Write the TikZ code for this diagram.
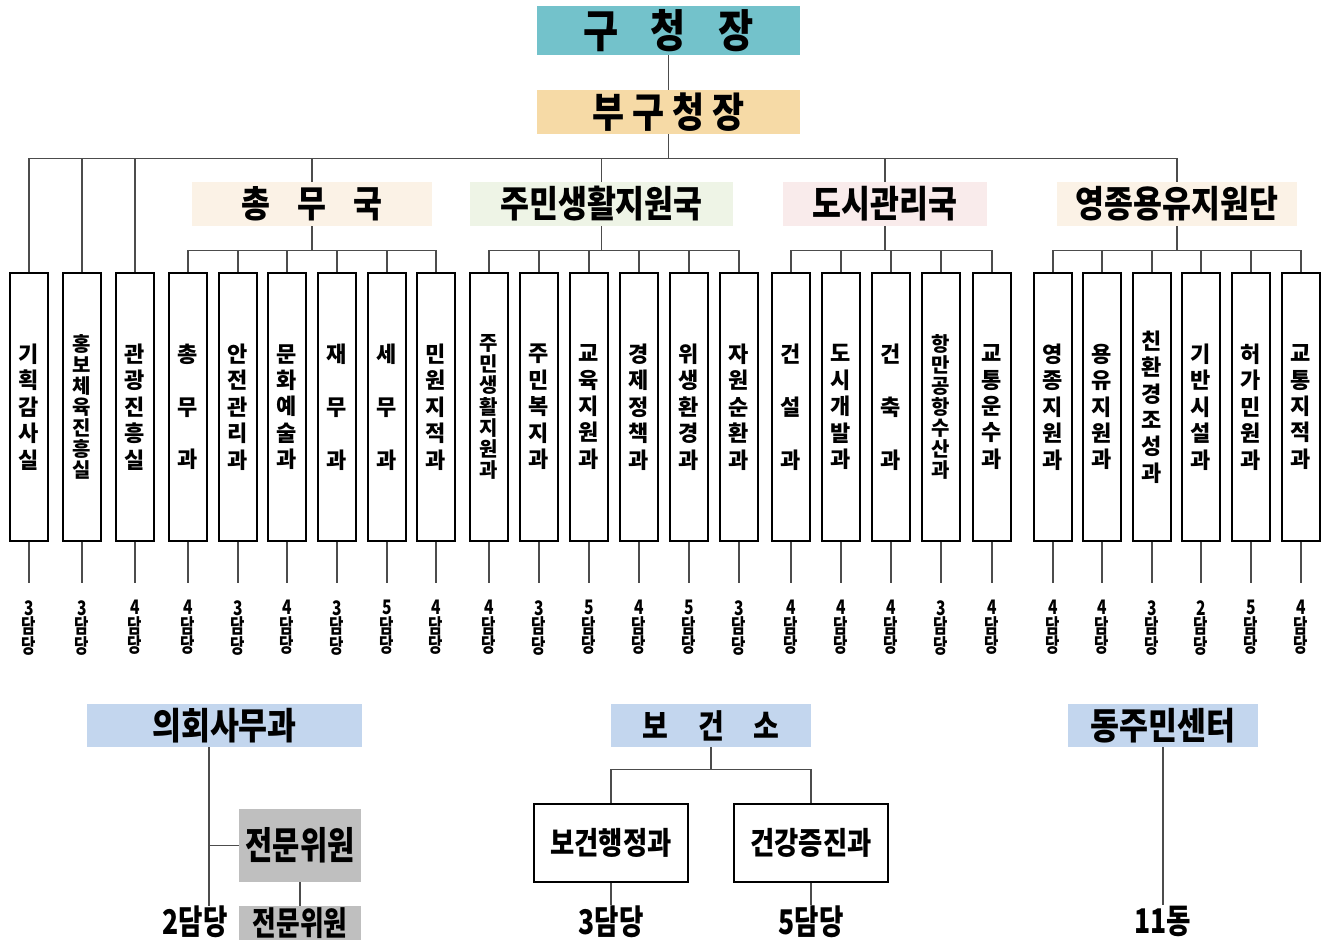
\documentclass[tikz,border=0pt]{standalone}
\usepackage{fontspec}
\setmainfont{Noto Sans CJK KR Black}
\newfontfamily\narrowfont{Noto Sans CJK KR Black}[FakeStretch=0.85]
\newfontfamily\slimfont{Noto Sans CJK KR Black}[FakeStretch=0.78]
\usetikzlibrary{positioning}
\definecolor{gcteal}{HTML}{73C2CB}
\definecolor{bgsand}{HTML}{F6DAA6}
\definecolor{bkcream}{HTML}{FBF2E6}
\definecolor{bkgreen}{HTML}{EEF4E6}
\definecolor{bkpink}{HTML}{F9EBEB}
\definecolor{bkblue}{HTML}{C3D6EE}
\definecolor{bkgray}{HTML}{BFBFBF}
\tikzset{
	HD/.style={fill=#1, inner sep=0pt, minimum height=44pt, font=\fontsize{37}{37}\narrowfont}
}
\tikzset{
	DB/.style={draw, line width=1.1pt, minimum width=38pt, minimum height=268pt, inner sep=0pt, align=center},
	DF/.style={font=\fontsize{22}{26.4}\selectfont},
	DS/.style={font=\fontsize{20}{21.1}\selectfont},
	CT/.style={font=\fontsize{20}{18.5}\slimfont, align=center, inner sep=0pt, anchor=north},
	BL/.style={font=\fontsize{34}{34}\slimfont, inner sep=1pt, anchor=north},
	CN/.style={draw=black!70, line width=1.1pt}
}

\begin{document}
\begin{tikzpicture}[x=1pt,y=-1pt]
	\useasboundingbox (0,0) rectangle (1324,940);
	% top
	\node[HD=gcteal, minimum width=263pt, minimum height=49pt, font=\fontsize{45}{45}\narrowfont] (gcj) at (668.5,30.5) {구\hspace{32pt}청\hspace{32pt}장};
	\node[HD=bgsand, minimum width=263pt, font=\fontsize{41}{41}\narrowfont] (bgc) at (668.5,112) {부\hspace{8pt}구\hspace{8pt}청\hspace{8pt}장};
	\draw[CN] (gcj.south) -- (bgc.north);
	\draw[CN] (bgc.south) -- ++(0,24) coordinate (bus);
	% bureaus
	\node[HD=bkcream, minimum width=240pt] (cm) at (312,204) {총\hspace{27pt}무\hspace{27pt}국};
	\node[HD=bkgreen, minimum width=263pt] (jm) at (601.5,204) {주민생활지원국};
	\node[HD=bkpink, minimum width=204pt] (ds) at (885,204) {도시관리국};
	\node[HD=bkcream, minimum width=240pt] (yj) at (1177,204) {영종용유지원단};
	% staff rooms
	\foreach \n/\x/\txt/\st/\cnt in {
		1/29/{기\\획\\감\\사\\실}/DF/3,
		2/82/{홍\\보\\체\\육\\진\\흥\\실}/DS/3,
		3/135/{관\\광\\진\\흥\\실}/DF/4}{
		\node[DB,\st] (st-\n) at (\x,407) {\txt};
		\node[CT] (st-\n-l) at (\x,600) {\cnt\\담\\당};
		\draw[CN] (st-\n.south) -- ++(0,41);
	}
	\draw[CN] (st-1.north) |- (bus) -| (yj.north);
	\foreach \k in {st-2,st-3,cm,jm,ds}
		\draw[CN] (\k.north) -- (\k.north |- bus);
	% 총무국
	\foreach \n/\x/\txt/\st/\cnt in {
		1/188/{총\\[26.4pt]무\\[26.4pt]과}/DF/4,
		2/238/{안\\전\\관\\리\\과}/DF/3,
		3/287/{문\\화\\예\\술\\과}/DF/4,
		4/337/{재\\[26.4pt]무\\[26.4pt]과}/DF/3,
		5/387/{세\\[26.4pt]무\\[26.4pt]과}/DF/5,
		6/436/{민\\원\\지\\적\\과}/DF/4}{
		\node[DB,\st] (cm-\n) at (\x,407) {\txt};
		\node[CT] (cm-\n-l) at (\x,600) {\cnt\\담\\당};
		\draw[CN] (cm.south) -- ++(0,24) -| (cm-\n.north);
		\draw[CN] (cm-\n.south) -- ++(0,41);
	}
	% 주민생활지원국
	\foreach \n/\x/\txt/\st/\cnt in {
		1/489/{주\\민\\생\\활\\지\\원\\과}/DS/4,
		2/539/{주\\민\\복\\지\\과}/DF/3,
		3/589/{교\\육\\지\\원\\과}/DF/5,
		4/639/{경\\제\\정\\책\\과}/DF/4,
		5/689/{위\\생\\환\\경\\과}/DF/5,
		6/739/{자\\원\\순\\환\\과}/DF/3}{
		\node[DB,\st] (jm-\n) at (\x,407) {\txt};
		\node[CT] (jm-\n-l) at (\x,600) {\cnt\\담\\당};
		\draw[CN] (jm.south) -- ++(0,24) -| (jm-\n.north);
		\draw[CN] (jm-\n.south) -- ++(0,41);
	}
	% 도시관리국
	\foreach \n/\x/\txt/\st/\cnt in {
		1/791/{건\\[26.4pt]설\\[26.4pt]과}/DF/4,
		2/841/{도\\시\\개\\발\\과}/DF/4,
		3/891/{건\\[26.4pt]축\\[26.4pt]과}/DF/4,
		4/941/{항\\만\\공\\항\\수\\산\\과}/DS/3,
		5/992/{교\\통\\운\\수\\과}/DF/4}{
		\node[DB,\st] (ds-\n) at (\x,407) {\txt};
		\node[CT] (ds-\n-l) at (\x,600) {\cnt\\담\\당};
		\draw[CN] (ds.south) -- ++(0,24) -| (ds-\n.north);
		\draw[CN] (ds-\n.south) -- ++(0,41);
	}
	% 영종용유지원단
	\foreach \n/\x/\txt/\st/\cnt in {
		1/1053/{영\\종\\지\\원\\과}/DF/4,
		2/1102/{용\\유\\지\\원\\과}/DF/4,
		3/1152/{친\\환\\경\\조\\성\\과}/DF/3,
		4/1201/{기\\반\\시\\설\\과}/DF/2,
		5/1251/{허\\가\\민\\원\\과}/DF/5,
		6/1301/{교\\통\\지\\적\\과}/DF/4}{
		\node[DB,\st] (yj-\n) at (\x,407) {\txt};
		\node[CT] (yj-\n-l) at (\x,600) {\cnt\\담\\당};
		\draw[CN] (yj.south) -- ++(0,24) -| (yj-\n.north);
		\draw[CN] (yj-\n.south) -- ++(0,41);
	}
	% 의회사무과
	\node[HD=bkblue, minimum width=275pt, minimum height=43pt] (uh) at (224.5,725.5) {의회사무과};
	\node[HD=bkgray, minimum width=122pt, minimum height=73pt, font=\fontsize{38}{38}\slimfont] (uh-1) at (300,845.5) {전문위원};
	\node[HD=bkgray, minimum width=122pt, minimum height=34pt, font=\fontsize{33}{33}\slimfont] (uh-2) at (300,923) {전문위원};
	\node[BL] (uh-l) at (195,905) {2담당};
	\coordinate (uh-j) at (209,845.5);
	\draw[CN] (uh.south -| uh-j) -- (uh-j) -- (uh-1.west);
	\draw[CN] (uh-j) -- ++(0,60);
	\draw[CN] (uh-1.south) -- (uh-2.north);
	% 보건소
	\node[HD=bkblue, minimum width=200pt, minimum height=43pt, font=\fontsize{33}{33}\narrowfont] (bg) at (711,725.5) {보\hspace{30pt}건\hspace{30pt}소};
	\node[draw, line width=1.1pt, minimum width=154pt, minimum height=78pt, font=\fontsize{31}{31}\narrowfont] (bg-1) at (611,843) {보건행정과};
	\node[draw, line width=1.1pt, minimum width=154pt, minimum height=78pt, font=\fontsize{31}{31}\narrowfont] (bg-2) at (811,843) {건강증진과};
	\draw[CN] (bg.south) -- ++(0,22) -| (bg-1.north);
	\draw[CN] (bg.south) -- ++(0,22) -| (bg-2.north);
	\node[BL] (bg-1-l) at (611,905) {3담당};
	\node[BL] (bg-2-l) at (811,905) {5담당};
	\draw[CN] (bg-1.south) -- (bg-1-l.north);
	\draw[CN] (bg-2.south) -- (bg-2-l.north);
	% 동주민센터
	\node[HD=bkblue, minimum width=190pt, minimum height=43pt] (dj) at (1163,725.5) {동주민센터};
	\node[BL] (dj-l) at (1163,905) {11동};
	\draw[CN] (dj.south) -- (dj-l.north);
\end{tikzpicture}
\end{document}
